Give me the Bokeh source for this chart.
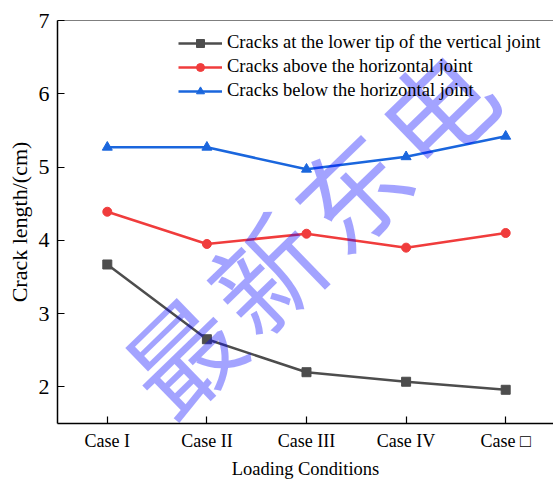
import math

from bokeh.plotting import figure
from bokeh.models import (Legend, LegendItem, FixedTicker, Span, Label,
                          Range1d)
from bokeh.embed import file_html
from bokeh.resources import INLINE

# Loading cases and measured crack lengths (cm)
cases = ["Case I", "Case II", "Case III", "Case IV", "Case \u25a1"]
lower_tip_vertical = [3.67, 2.65, 2.20, 2.07, 1.96]
above_horizontal = [4.39, 3.95, 4.09, 3.90, 4.10]
below_horizontal = [5.27, 5.27, 4.97, 5.14, 5.42]
y_ticks = [2, 3, 4, 5, 6, 7]

series_labels = [
    "Cracks at the lower tip of the vertical joint",
    "Cracks above the horizontal joint",
    "Cracks below the horizontal joint",
]

watermark = "最新东电"

x = list(range(1, len(cases) + 1))
FONT = "Liberation Serif"

W, H = 553, 481
LEFT, RIGHT, TOP, BOTTOM = 57, 0, 20, 58
X0, X1, Y0, Y1 = 0.5, 5.48, 1.5, 7.0

p = figure(width=W, height=H, output_backend="svg", toolbar_location=None,
           x_range=Range1d(X0, X1), y_range=Range1d(Y0, Y1),
           min_border_left=LEFT, min_border_right=RIGHT, min_border_top=TOP,
           min_border_bottom=BOTTOM)
p.outline_line_color = None
p.grid.visible = False
p.background_fill_color = "white"
p.border_fill_color = "white"

# top frame line
p.add_layout(Span(location=Y1, dimension="width", line_color="black",
                  line_width=1.2))

series = [
    (lower_tip_vertical, "#4d4d4d", "square", 9),
    (above_horizontal, "#f03c3c", "circle", 9),
    (below_horizontal, "#1a66dd", "triangle", 10),
]

items = []
for (vals, color, marker, size), label in zip(series, series_labels):
    ln = p.line(x, vals, line_color=color, line_width=2.5)
    sc = p.scatter(x, vals, marker=marker, size=size, fill_color=color,
                   line_color=color)
    items.append(LegendItem(label=label, renderers=[ln, sc]))

legend = Legend(items=items, location=(121, 322), border_line_color=None,
                background_fill_alpha=0, padding=0, margin=0, spacing=3,
                glyph_width=44, glyph_height=20, label_height=20,
                label_standoff=5, label_text_font=FONT,
                label_text_font_size="18.5px", label_text_color="black")
p.add_layout(legend)

# axes
for ax in (p.xaxis[0], p.yaxis[0]):
    ax.axis_line_color = "black"
    ax.axis_line_width = 1.5
    ax.major_tick_line_color = "black"
    ax.major_tick_line_width = 1.2
    ax.major_tick_in = 7
    ax.major_tick_out = 0
    ax.minor_tick_line_color = None
    ax.major_label_text_font = FONT
    ax.major_label_text_color = "black"
    ax.axis_label_text_font = FONT
    ax.axis_label_text_font_style = "normal"
    ax.axis_label_text_color = "black"

p.xaxis.ticker = FixedTicker(ticks=x)
p.xaxis.major_label_overrides = {i: c for i, c in zip(x, cases)}
p.xaxis.major_label_text_font_size = "18px"
p.xaxis.major_label_standoff = 7
p.xaxis.axis_label = "Loading Conditions"
p.xaxis.axis_label_text_font_size = "18.5px"
p.xaxis.axis_label_standoff = 5

p.yaxis.ticker = FixedTicker(ticks=y_ticks)
p.yaxis.major_label_text_font_size = "22px"
p.yaxis.major_label_standoff = 8
p.yaxis.axis_label = "Crack length/(cm)"
p.yaxis.axis_label_text_font_size = "22px"
p.yaxis.axis_label_standoff = 4

# semi-transparent diagonal watermark, one character per label
frame_w = W - LEFT - RIGHT
frame_h = H - TOP - BOTTOM
angle = 0.77
step_px = 118
dx = step_px * math.cos(angle) * (X1 - X0) / frame_w
dy = step_px * math.sin(angle) * (Y1 - Y0) / frame_h
cx, cy = 3.0, 4.15
n = len(watermark)
for i, ch in enumerate(watermark):
    k = i - (n - 1) / 2
    p.add_layout(Label(x=cx + k * dx, y=cy + k * dy, text=ch, angle=angle,
                       text_align="center", text_baseline="middle",
                       text_font="Noto Sans CJK SC", text_font_size="110px",
                       text_color="#0000ff", text_alpha=0.36))

open("out.html", "w").write(file_html(p, INLINE))
